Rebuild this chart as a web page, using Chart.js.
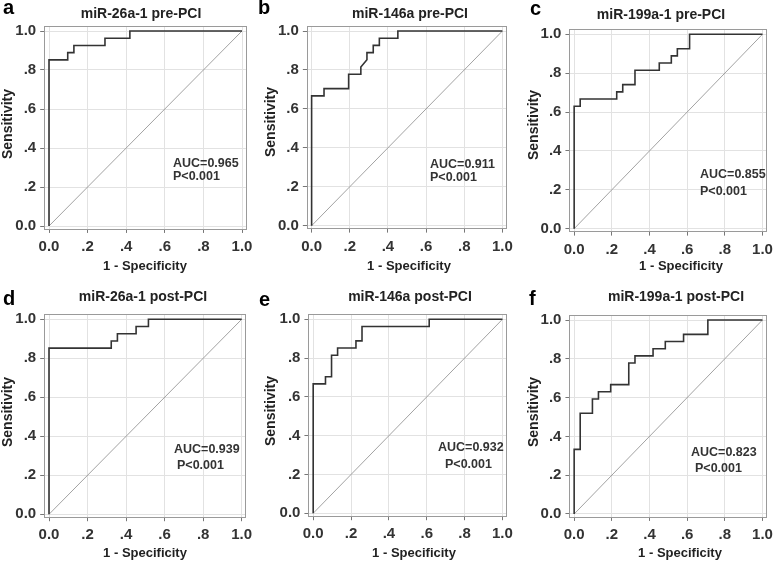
<!DOCTYPE html>
<html>
<head>
<meta charset="utf-8">
<script src="https://cdn.jsdelivr.net/npm/chart.js@4.4.1/dist/chart.umd.min.js"></script>
<style>
  body { margin: 0; background: #fff; width: 778px; height: 563px; position: relative; overflow: hidden; }
  canvas { position: absolute; }
</style>
</head>
<body>
<script>
// ROC vertices: 1 - specificity (x) and sensitivity (y)
const fprA = [0, 0, 0.097, 0.097, 0.129, 0.129, 0.290, 0.290, 0.419, 0.419, 1];
const tprA = [0, 0.852, 0.852, 0.889, 0.889, 0.926, 0.926, 0.963, 0.963, 1, 1];

const fprB = [0, 0, 0.065, 0.065, 0.194, 0.194, 0.258, 0.258, 0.290, 0.290, 0.323, 0.323, 0.355, 0.355, 0.452, 0.452, 1];
const tprB = [0, 0.667, 0.667, 0.704, 0.704, 0.778, 0.778, 0.815, 0.852, 0.889, 0.889, 0.926, 0.926, 0.963, 0.963, 1, 1];

const fprC = [0, 0, 0.032, 0.032, 0.226, 0.226, 0.258, 0.258, 0.323, 0.323, 0.452, 0.452, 0.516, 0.516, 0.548, 0.548, 0.613, 0.613, 1];
const tprC = [0, 0.630, 0.630, 0.667, 0.667, 0.704, 0.704, 0.741, 0.741, 0.815, 0.815, 0.852, 0.852, 0.889, 0.889, 0.926, 0.926, 1, 1];

const fprD = [0, 0, 0.323, 0.323, 0.355, 0.355, 0.452, 0.452, 0.516, 0.516, 1];
const tprD = [0, 0.852, 0.852, 0.889, 0.889, 0.926, 0.926, 0.963, 0.963, 1, 1];

const fprE = [0, 0, 0.065, 0.065, 0.097, 0.097, 0.129, 0.129, 0.226, 0.226, 0.258, 0.258, 0.613, 0.613, 1];
const tprE = [0, 0.667, 0.667, 0.704, 0.704, 0.815, 0.815, 0.852, 0.852, 0.889, 0.889, 0.963, 0.963, 1, 1];

const fprF = [0, 0, 0.032, 0.032, 0.097, 0.097, 0.129, 0.129, 0.194, 0.194, 0.290, 0.290, 0.323, 0.323, 0.419, 0.419, 0.484, 0.484, 0.581, 0.581, 0.710, 0.710, 1];
const tprF = [0, 0.333, 0.333, 0.519, 0.519, 0.593, 0.593, 0.630, 0.630, 0.667, 0.667, 0.778, 0.778, 0.815, 0.815, 0.852, 0.852, 0.889, 0.889, 0.926, 0.926, 1, 1];

// reference line
const diagX = [0, 1];
const diagY = [0, 1];

const tickVals = [0, 0.2, 0.4, 0.6, 0.8, 1.0];
const tickLabels = ["0.0", ".2", ".4", ".6", ".8", "1.0"];

const letters = ["a", "b", "c", "d", "e", "f"];
const titles = ["miR-26a-1 pre-PCI", "miR-146a pre-PCI", "miR-199a-1 pre-PCI",
                "miR-26a-1 post-PCI", "miR-146a post-PCI", "miR-199a-1 post-PCI"];
const aucLabels = ["AUC=0.965", "AUC=0.911", "AUC=0.855", "AUC=0.939", "AUC=0.932", "AUC=0.823"];
const pLabels = ["P<0.001", "P<0.001", "P<0.001", "P<0.001", "P<0.001", "P<0.001"];

const curves = [[fprA, tprA], [fprB, tprB], [fprC, tprC], [fprD, tprD], [fprE, tprE], [fprF, tprF]];

// page layout (pixels): canvas box, where 0 and 1 fall, and text anchors
const layout = [
  { cx: 0,   cy: 0,   cw: 259, ch: 281, x0: 49,    x1: 242,   y1: 31,    y0: 226,
    letter: [3, 14],    title: [141, 14],  ytitle: [8, 124],   xtitle: [145, 266],
    auc: [173, 164], pv: [173, 177] },
  { cx: 259, cy: 0,   cw: 259, ch: 281, x0: 311.7, x1: 505.7, y1: 31,    y0: 225.7,
    letter: [258, 14],  title: [410, 14],  ytitle: [271, 122],  xtitle: [409, 266],
    auc: [430, 165], pv: [430, 178] },
  { cx: 518, cy: 0,   cw: 260, ch: 281, x0: 574.3, x1: 768.3, y1: 34.3,  y0: 228.7,
    letter: [530, 15],  title: [661, 15],  ytitle: [534, 125],  xtitle: [681, 266],
    auc: [700, 175], pv: [700, 192] },
  { cx: 0,   cy: 281, cw: 259, ch: 282, x0: 49,    x1: 241.7, y1: 319.3, y0: 514.3,
    letter: [3, 305],   title: [143, 297], ytitle: [8, 412],   xtitle: [145, 553],
    auc: [174, 450], pv: [177, 466] },
  { cx: 259, cy: 281, cw: 259, ch: 282, x0: 313.3, x1: 507.3, y1: 319.3, y0: 513.3,
    letter: [259, 306], title: [410, 297], ytitle: [271, 411],  xtitle: [414, 553],
    auc: [438, 448], pv: [445, 465] },
  { cx: 518, cy: 281, cw: 260, ch: 282, x0: 574.3, x1: 768.3, y1: 320,   y0: 514,
    letter: [529, 305], title: [676, 297], ytitle: [534, 412],  xtitle: [680, 553],
    auc: [691, 453], pv: [695, 469] },
];

const FONT = "'Liberation Sans', Arial, sans-serif";
const X_MIN = -0.025, X_MAX = 1.02, Y_MIN = -0.015, Y_MAX = 1.025;
const Y_AXIS_W = 40, X_AXIS_H = 40;

function toPoints(xs, ys) {
  return xs.map((x, i) => ({ x: x, y: ys[i] }));
}

// frame and texts
const panelPlugin = {
  id: "panelDeco",
  beforeDatasetsDraw(chart) {
    const a = chart.chartArea;
    const ctx = chart.ctx;
    ctx.save();
    ctx.strokeStyle = "#9a9a9a";
    ctx.lineWidth = 1;
    ctx.strokeRect(Math.round(a.left) + 0.5, Math.round(a.top) + 0.5,
      Math.round(a.right - a.left), Math.round(a.bottom - a.top));
    ctx.restore();
  },
  afterDraw(chart) {
    const p = chart.options.plugins.panelDeco;
    const L = p.lay;
    const ctx = chart.ctx;
    const ox = L.cx, oy = L.cy;
    ctx.save();
    ctx.fillStyle = "#000";
    ctx.font = "bold 20px " + FONT;
    ctx.textAlign = "left";
    ctx.textBaseline = "alphabetic";
    ctx.fillText(p.letter, L.letter[0] - ox, L.letter[1] - oy);

    ctx.fillStyle = "#222";
    ctx.font = "bold 14px " + FONT;
    ctx.textAlign = "center";
    ctx.textBaseline = "middle";
    ctx.fillText(p.title, L.title[0] - ox, L.title[1] - oy);

    ctx.save();
    ctx.translate(L.ytitle[0] - ox, L.ytitle[1] - oy);
    ctx.rotate(-Math.PI / 2);
    ctx.fillText("Sensitivity", 0, 0);
    ctx.restore();

    ctx.font = "bold 13px " + FONT;
    ctx.fillText("1 - Specificity", L.xtitle[0] - ox, L.xtitle[1] - oy);

    ctx.fillStyle = "#333";
    ctx.font = "bold 12.5px " + FONT;
    ctx.textAlign = "left";
    ctx.fillText(p.auc, L.auc[0] - ox, L.auc[1] - oy);
    ctx.fillText(p.pval, L.pv[0] - ox, L.pv[1] - oy);
    ctx.restore();
  }
};

function axisOptions(min, max, isX) {
  return {
    type: "linear",
    min: min,
    max: max,
    afterBuildTicks: (s) => { s.ticks = tickVals.map((v) => ({ value: v })); },
    afterFit: (s) => { if (isX) s.height = X_AXIS_H; else s.width = Y_AXIS_W; },
    ticks: {
      autoSkip: false,
      maxRotation: 0,
      padding: isX ? 5 : 4,
      color: "#333",
      font: { family: FONT, size: 15, weight: "bold" },
      callback: (v) => tickLabels[tickVals.indexOf(v)]
    },
    grid: { color: "#e2e2e2", lineWidth: 1, drawTicks: true, tickLength: 4, tickColor: "#777" },
    border: { display: false }
  };
}

layout.forEach((L, i) => {
  const canvas = document.createElement("canvas");
  canvas.width = L.cw;
  canvas.height = L.ch;
  canvas.style.left = L.cx + "px";
  canvas.style.top = L.cy + "px";
  document.body.appendChild(canvas);

  // chart area in page coords
  const ux = L.x1 - L.x0, uy = L.y0 - L.y1;
  const left = L.x0 + X_MIN * ux;
  const right = L.x1 + (X_MAX - 1) * ux;
  const top = L.y1 - (Y_MAX - 1) * uy;
  const bottom = L.y0 - Y_MIN * uy;

  new Chart(canvas.getContext("2d"), {
    type: "line",
    data: {
      datasets: [
        {
          data: toPoints(curves[i][0], curves[i][1]),
          borderColor: "#333",
          borderWidth: 1.6,
          pointRadius: 0,
          tension: 0
        },
        {
          data: toPoints(diagX, diagY),
          borderColor: "#8a8a8a",
          borderWidth: 0.8,
          pointRadius: 0,
          tension: 0
        }
      ]
    },
    options: {
      responsive: false,
      animation: false,
      devicePixelRatio: 1,
      layout: {
        padding: {
          left: left - L.cx - Y_AXIS_W,
          top: top - L.cy,
          right: L.cx + L.cw - right,
          bottom: L.cy + L.ch - bottom - X_AXIS_H
        }
      },
      scales: {
        x: axisOptions(X_MIN, X_MAX, true),
        y: axisOptions(Y_MIN, Y_MAX, false)
      },
      plugins: {
        legend: { display: false },
        tooltip: { enabled: false },
        panelDeco: {
          lay: L,
          letter: letters[i],
          title: titles[i],
          auc: aucLabels[i],
          pval: pLabels[i]
        }
      }
    },
    plugins: [panelPlugin]
  });
});
</script>
</body>
</html>
